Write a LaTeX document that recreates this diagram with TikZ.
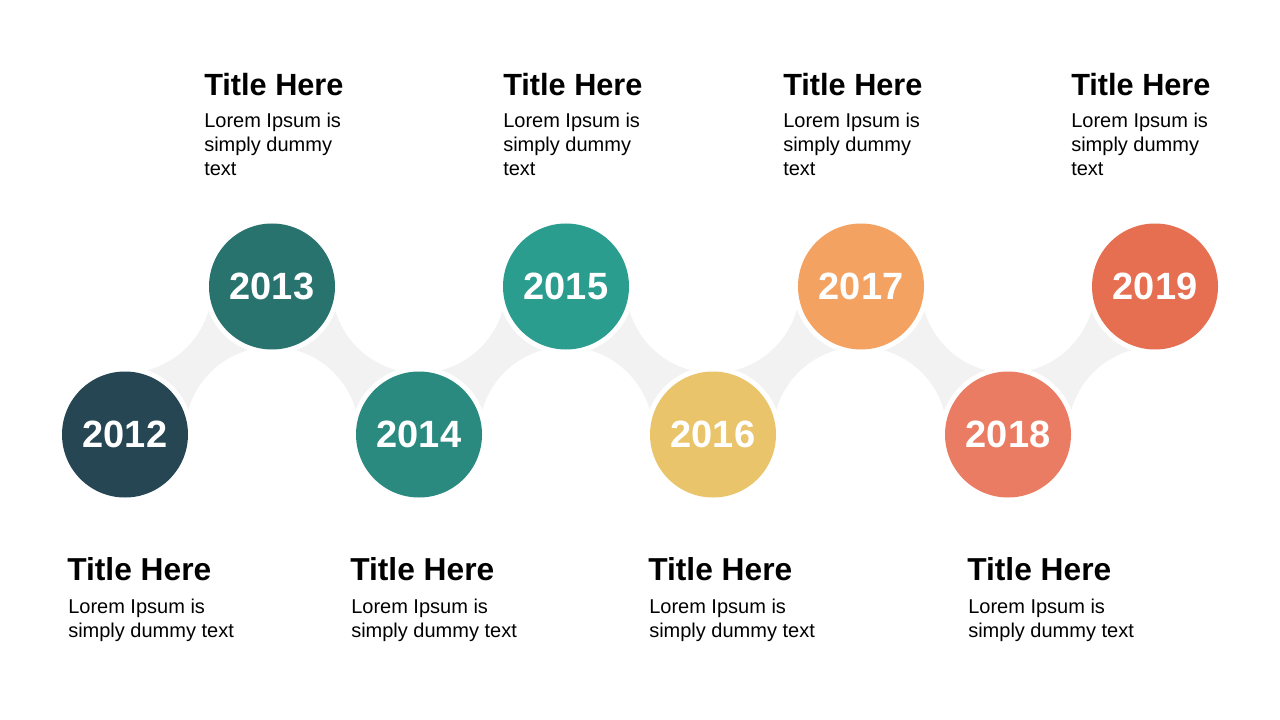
\documentclass[tikz,border=0pt]{standalone}
\usepackage{fontspec}
\setmainfont{Liberation Sans}
\definecolor{cA}{HTML}{264653}
\definecolor{cB}{HTML}{29736F}
\definecolor{cC}{HTML}{2A8A80}
\definecolor{cD}{HTML}{2A9D8F}
\definecolor{cE}{HTML}{E9C46A}
\definecolor{cF}{HTML}{F4A261}
\definecolor{cG}{HTML}{EB7C64}
\definecolor{cH}{HTML}{E76F51}
\definecolor{band}{HTML}{F2F2F2}
\begin{document}
\begin{tikzpicture}[x=0.75pt,y=-0.75pt,
  yearc/.style={circle, minimum size=94.5pt, inner sep=0pt, fill=#1, text=white,
    font=\fontsize{28.5}{32}\selectfont\bfseries,
    preaction={draw=white, line width=7.5pt}},
  ttl/.style={anchor=base west, inner sep=0pt, font=\fontsize{23}{27}\selectfont\bfseries},
  ttlb/.style={ttl, font=\fontsize{23.8}{28}\selectfont\bfseries},
  bodytxt/.style={anchor=base west, inner sep=0pt, font=\fontsize{15}{18}\selectfont}]
\fill[white] (0,0) rectangle (1280,720);
\useasboundingbox (0,0) rectangle (1280,720);
% grey band between the circles
\fill[band] (125,286) rectangle (1155,434);
\foreach \px/\py in {125/286, 272/434, 419/286, 566/434, 713/286, 860/434, 1008/286, 1155/434}
  \fill[white] (\px,\py) circle[radius=87];
% year circles
\node[yearc=cA] (y2012) at (125,434.5) {2012};
\node[yearc=cB] (y2013) at (272,286.5) {2013};
\node[yearc=cC] (y2014) at (419,434.5) {2014};
\node[yearc=cD] (y2015) at (566,286.5) {2015};
\node[yearc=cE] (y2016) at (713,434.5) {2016};
\node[yearc=cF] (y2017) at (861,286.5) {2017};
\node[yearc=cG] (y2018) at (1008,434.5) {2018};
\node[yearc=cH] (y2019) at (1155,286.5) {2019};
% top texts
\foreach \tx/\nm in {204/a, 503/b, 783/c, 1071/d}{
  \node[ttl] (tt\nm) at (\tx,95.5) {Title Here};
  \node[bodytxt] (tb\nm) at (\tx,128) {\begin{tabular}[t]{@{}l@{}}Lorem Ipsum is\\simply dummy\\text\end{tabular}};
}
% bottom texts
\foreach \tx/\nm in {67/a, 350/b, 648/c, 967/d}{
  \node[ttlb] (bt\nm) at (\tx,580) {Title Here};
  \node[bodytxt] (bb\nm) at (\tx+1,613) {\begin{tabular}[t]{@{}l@{}}Lorem Ipsum is\\simply dummy text\end{tabular}};
}
\end{tikzpicture}
\end{document}
